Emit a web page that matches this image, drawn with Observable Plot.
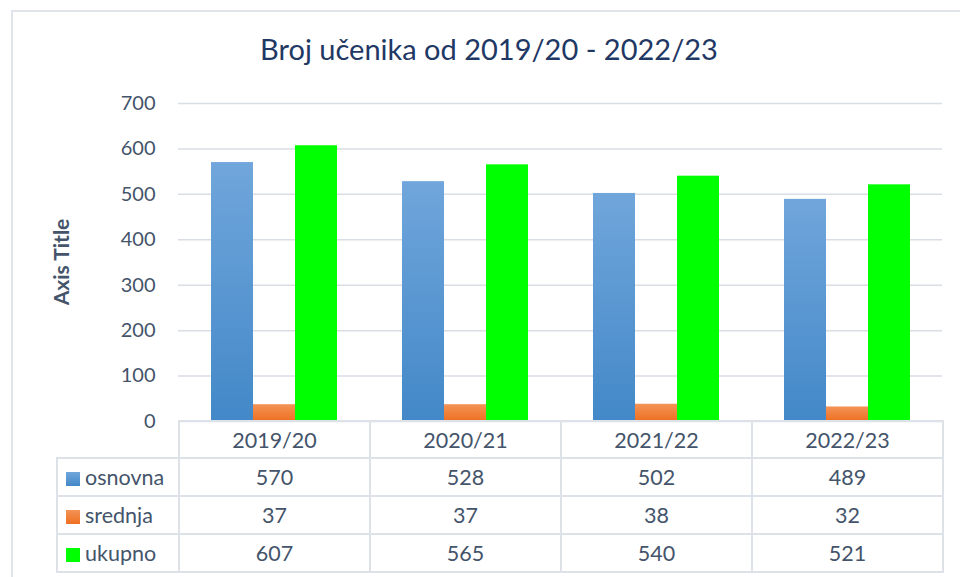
<!DOCTYPE html>
<html>
<head>
<meta charset="utf-8">
<script src="https://cdn.jsdelivr.net/npm/d3@7"></script>
<script src="https://cdn.jsdelivr.net/npm/@observablehq/plot@0.6"></script>
<style>
  html, body { margin: 0; padding: 0; background: #fff; overflow: hidden; }
  body { width: 960px; height: 577px; position: relative; font-family: Lato, "Open Sans", sans-serif; }
  #frame { position: absolute; left: 11px; top: 10px; width: 1000px; height: 600px; border: 2px solid #dfe3ea; box-sizing: border-box; }
  #title { position: absolute; left: 0; top: 31px; width: 978px; text-align: center; font-size: 29px; color: #1f3864; }
  #chart { position: absolute; left: 0; top: 80px; }
  #ytitle { position: absolute; left: 60px; top: 262px; transform: translate(-50%, -50%) rotate(-90deg); font-weight: bold; font-size: 21px; color: #44546a; white-space: nowrap; }
  #table { position: absolute; left: 56px; top: 420px; border-collapse: collapse; table-layout: fixed; color: #44546a; font-size: 21.5px; }
  #table td { border: 2px solid #dde1e8; padding: 0; text-align: center; height: 36px; }
  #table tr.hd td { height: 35px; }
  #table td.lab { text-align: left; padding-left: 8px; }
  #table td.blank { border-top: hidden; border-left: hidden; }
  .sw { display: inline-block; width: 14px; height: 14px; margin-right: 5px; vertical-align: -1px; }
</style>
</head>
<body>
<div id="frame"></div>
<div id="title">Broj učenika od 2019/20 - 2022/23</div>
<div id="ytitle">Axis Title</div>
<div id="chart"></div>
<table id="table"></table>
<script>
const years = ["2019/20", "2020/21", "2021/22", "2022/23"];
const series = ["osnovna", "srednja", "ukupno"];
const osnovna = [570, 528, 502, 489];
const srednja = [37, 37, 38, 32];
const ukupno = [607, 565, 540, 521];
const yTicks = [0, 100, 200, 300, 400, 500, 600, 700];
const seriesColors = ["url(#gBlue)", "url(#gOrange)", "#00ff00"];
const swatchCss = ["linear-gradient(#70a6db, #4388c8)", "linear-gradient(#f39357, #ee7021)", "#00ff00"];

const values = {osnovna, srednja, ukupno};
const data = years.flatMap((yr, i) => series.map(s => ({year: yr, series: s, value: values[s][i]})));

const svg = Plot.plot({
  width: 960,
  height: 360,
  marginLeft: 178,
  marginRight: 18,
  marginTop: 23,
  marginBottom: 19,
  style: {fontFamily: "Lato, 'Open Sans', sans-serif", fontSize: "20px", color: "#44546a", background: "transparent", overflow: "visible"},
  fx: {domain: years, padding: 0, axis: null},
  x: {domain: series, paddingInner: 0, paddingOuter: 0.75, axis: null},
  y: {domain: [0, 700], ticks: yTicks, tickSize: 0, tickPadding: 23, label: null},
  color: {type: "ordinal", domain: series, range: seriesColors},
  marks: [
    Plot.ruleY(yTicks, {stroke: "#d9dde4", strokeWidth: 1.5}),
    Plot.barY(data, {fx: "year", x: "series", y: "value", fill: "series", inset: 0})
  ]
});

const ns = "http://www.w3.org/2000/svg";
const defs = document.createElementNS(ns, "defs");
function grad(id, c1, c2) {
  const g = document.createElementNS(ns, "linearGradient");
  g.setAttribute("id", id);
  g.setAttribute("x1", "0"); g.setAttribute("y1", "0"); g.setAttribute("x2", "0"); g.setAttribute("y2", "1");
  [[0, c1], [1, c2]].forEach(([o, c]) => {
    const st = document.createElementNS(ns, "stop");
    st.setAttribute("offset", o);
    st.setAttribute("stop-color", c);
    g.appendChild(st);
  });
  defs.appendChild(g);
}
grad("gBlue", "#70a6db", "#4388c8");
grad("gOrange", "#f39357", "#ee7021");
svg.insertBefore(defs, svg.firstChild);
document.getElementById("chart").appendChild(svg);

// data table
const table = document.getElementById("table");
const colgroup = document.createElement("colgroup");
[122, 191, 191, 191, 191].forEach(w => { const c = document.createElement("col"); c.style.width = w + "px"; colgroup.appendChild(c); });
table.appendChild(colgroup);
const head = document.createElement("tr");
head.className = "hd";
head.innerHTML = `<td class="blank"></td>` + years.map(y => `<td>${y}</td>`).join("");
table.appendChild(head);
series.forEach((s, k) => {
  const tr = document.createElement("tr");
  tr.innerHTML = `<td class="lab"><span class="sw" style="background:${swatchCss[k]}"></span>${s}</td>` +
    values[s].map(v => `<td>${v}</td>`).join("");
  table.appendChild(tr);
});
</script>
</body>
</html>
